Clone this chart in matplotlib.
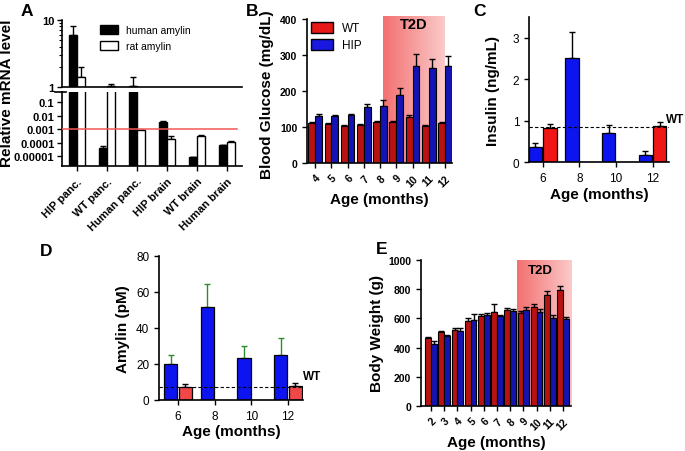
import matplotlib
matplotlib.use("Agg")
import numpy as np
import matplotlib.pyplot as plt
from matplotlib.patches import Patch
from matplotlib.colors import LinearSegmentedColormap
from matplotlib.ticker import FixedLocator, NullLocator, NullFormatter

plt.rcParams['font.family'] = ['Liberation Sans', 'DejaVu Sans']

# ---- data ----
a_groups = ["HIP panc.", "WT panc.", "Human panc.", "HIP brain", "WT brain", "Human brain"]
a_human = [6.0, 3.6e-5, 1.05, 3.7e-3, 8e-6, 6.3e-5]
a_human_err = [2.0, 2.4e-5, 0.35, 4e-4, 1e-6, 8e-6]
a_rat = [1.4, 1.02, 8.5e-4, 1.8e-4, 3.2e-4, 1.1e-4]
a_rat_err = [0.6, 0.1, 0.0, 1.4e-4, 2e-5, 1e-5]
a_cutoff = 1e-3

b_months = [4, 5, 6, 7, 8, 9, 10, 11, 12]
b_wt = [110, 107, 102, 106, 113, 113, 127, 103, 110]
b_wt_err = [4, 3, 3, 3, 3, 4, 5, 3, 3]
b_hip = [130, 130, 132, 155, 159, 189, 270, 263, 270]
b_hip_err = [5, 4, 3, 9, 17, 19, 33, 26, 26]

c_hip_months = [6, 8, 10, 12]
c_hip = [0.37, 2.5, 0.70, 0.16]
c_hip_err = [0.08, 0.65, 0.19, 0.10]
c_wt_months = [6, 12]
c_wt = [0.82, 0.87]
c_wt_err = [0.10, 0.10]
c_wt_level = 0.84

d_hip_months = [6, 8, 10, 12]
d_hip = [20, 51.5, 23.5, 25]
d_hip_err = [5, 13, 6.5, 9.5]
d_wt_months = [6, 12]
d_wt = [7.5, 8]
d_wt_err = [1.5, 1.5]
d_wt_level = 7.5

e_months = [2, 3, 4, 5, 6, 7, 8, 9, 10, 11, 12]
e_wt = [468, 507, 518, 582, 616, 645, 655, 639, 678, 760, 792]
e_wt_err = [8, 8, 15, 23, 12, 56, 18, 15, 18, 28, 30]
e_hip = [422, 479, 514, 587, 623, 616, 651, 655, 646, 605, 594]
e_hip_err = [23, 6, 23, 41, 15, 10, 15, 20, 15, 15, 15]

W, H = 685, 452
fig = plt.figure(figsize=(W / 100, H / 100), dpi=100)

def px_axes(l, t, r, b):
    return fig.add_axes([l / W, 1 - b / H, (r - l) / W, (b - t) / H])

def ftext(x, y, s, **kw):
    fig.text(x / W, 1 - y / H, s, **kw)

def style(ax):
    for s in ("top", "right"):
        ax.spines[s].set_visible(False)
    for s in ("left", "bottom"):
        ax.spines[s].set_linewidth(1.2)
    ax.tick_params(direction="out", length=3.5, width=1)

t2d_cmap = LinearSegmentedColormap.from_list("t2d", ["#f37070", "#fbcaca"])

def shade(ax, x0, x1, y0, y1):
    grad = np.linspace(0, 1, 256)[None, :]
    ax.imshow(grad, extent=[x0, x1, y0, y1], aspect="auto", cmap=t2d_cmap,
              zorder=0, interpolation="bilinear")

def upbars(ax, x, v, e, ecolor="k"):
    ax.errorbar(x, v, yerr=[np.zeros(len(e)), e], fmt="none", ecolor=ecolor,
                elinewidth=1, capsize=2.5, capthick=1, zorder=2)

BOLD = dict(fontweight="bold")

# ---- A ----
up = px_axes(62, 21, 242, 88)
lo = px_axes(62, 93, 242, 167)
xa = np.arange(len(a_groups))
for ax in (up, lo):
    style(ax)
    ax.set_yscale("log")
    upbars(ax, xa - 0.14, a_human, a_human_err)
    upbars(ax, xa + 0.14, a_rat, a_rat_err)
    ax.bar(xa - 0.14, a_human, 0.28, bottom=1e-9, color="k", edgecolor="k", lw=1, zorder=2.5)
    ax.bar(xa + 0.14, a_rat, 0.28, bottom=1e-9, color="w", edgecolor="k", lw=1, zorder=2.5)
    ax.set_xlim(-0.5, 5.5)
up.set_ylim(1, 10)
up.yaxis.set_major_locator(FixedLocator([1, 10]))
up.set_yticklabels(["1", "10"], fontsize=8, **BOLD)
up.yaxis.set_minor_locator(FixedLocator([2, 3, 4, 5, 6, 7, 8, 9]))
up.yaxis.set_minor_formatter(NullFormatter())
up.tick_params(axis="y", which="minor", length=2, width=0.8)
up.tick_params(axis="x", bottom=False, labelbottom=False)
lo.spines["top"].set_visible(False)
lo.set_ylim(10 ** -5.75, 10 ** -0.23)
lo.yaxis.set_major_locator(FixedLocator([1e-5, 1e-4, 1e-3, 1e-2, 1e-1]))
lo.yaxis.set_minor_locator(NullLocator())
lo.set_yticklabels(["0.00001", "0.0001", "0.001", "0.01", "0.1"], fontsize=8, **BOLD)
lo.tick_params(axis="y", pad=2)
up.tick_params(axis="y", pad=2)
lo.set_xticks(xa)
lo.set_xticklabels(a_groups, rotation=45, ha="right", rotation_mode="anchor", fontsize=8, **BOLD)
lo.axhline(a_cutoff, xmin=0, xmax=0.97, color="#f05858", lw=1.1, zorder=3)
lo.plot([-0.04, 0.02], [1, 1], transform=lo.transAxes, color="k", lw=1.2, clip_on=False)
up.legend([Patch(fc="k", ec="k"), Patch(fc="w", ec="k")], ["human amylin", "rat amylin"],
          loc="upper left", bbox_to_anchor=(100 / W, 1 - 26 / H), bbox_transform=fig.transFigure,
          frameon=False, fontsize=7.5, handlelength=1.7, handleheight=1.0,
          labelspacing=0.55, borderaxespad=0, borderpad=0, handletextpad=0.8)
ftext(7, 93, "Relative mRNA level", rotation=90, ha="center", va="center", fontsize=11, **BOLD)
ftext(27, 11, "A", ha="center", va="center", fontsize=12.5, **BOLD)

# ---- B ----
axb = px_axes(307, 17, 452, 164)
style(axb)
xb = np.arange(len(b_months))
shade(axb, 4.18, 7.94, 0, 408)
upbars(axb, xb - 0.21, b_wt, b_wt_err)
upbars(axb, xb + 0.21, b_hip, b_hip_err)
axb.bar(xb - 0.21, b_wt, 0.42, color="#b81212", edgecolor="k", lw=0.8, zorder=2.5)
axb.bar(xb + 0.21, b_hip, 0.42, color="#1414b4", edgecolor="k", lw=0.8, zorder=2.5)
axb.set_xlim(-0.5, 8.43)
axb.set_ylim(0, 408)
axb.spines["left"].set_bounds(0, 400)
axb.set_yticks([0, 100, 200, 300, 400])
axb.set_yticklabels(["0", "100", "200", "300", "400"], fontsize=7.5, **BOLD)
axb.set_xticks(xb)
axb.set_xticklabels([str(m) for m in b_months], rotation=45, ha="right",
                    rotation_mode="anchor", fontsize=7.5, **BOLD)
axb.text(6.06, 385, "T2D", ha="center", va="center", fontsize=10.5, **BOLD)
axb.legend([Patch(fc="#e81818", ec="k"), Patch(fc="#1818e0", ec="k")], ["WT", "HIP"],
           loc="upper left", bbox_to_anchor=(311 / W, 1 - 23 / H), bbox_transform=fig.transFigure,
           frameon=False, fontsize=8.5, handlelength=1.9, handleheight=1.0,
           labelspacing=0.4, borderaxespad=0, borderpad=0, handletextpad=0.7)
axb.set_ylabel("Blood Glucose (mg/dL)", fontsize=11, **BOLD)
axb.yaxis.set_label_coords(-0.23, 0.47)
axb.set_xlabel("Age (months)", fontsize=11, **BOLD)
axb.xaxis.set_label_coords(0.5, -0.2)
ftext(252, 11, "B", ha="center", va="center", fontsize=12.5, **BOLD)

# ---- C ----
axc = px_axes(529, 18, 669, 163)
style(axc)
hc = np.array(c_hip_months, dtype=float)
wc = np.array(c_wt_months, dtype=float)
upbars(axc, hc - 0.4, c_hip, c_hip_err)
upbars(axc, wc + 0.4, c_wt, c_wt_err)
axc.bar(hc - 0.4, c_hip, 0.72, color="#0c14f0", edgecolor="k", lw=0.9, zorder=2.5)
axc.bar(wc + 0.4, c_wt, 0.72, color="#f01616", edgecolor="k", lw=0.9, zorder=2.5)
axc.axhline(c_wt_level, color="k", lw=0.8, ls=(0, (3, 2)), zorder=3)
axc.set_xlim(5.25, 12.9)
axc.set_ylim(0, 3.5)
axc.set_yticks([0, 1, 2, 3])
axc.set_yticklabels(["0", "1", "2", "3"], fontsize=8.5)
axc.set_xticks([6, 8, 10, 12])
axc.set_xticklabels(["6", "8", "10", "12"], fontsize=8.5)
axc.text(12.75, 0.9, "WT", ha="left", va="bottom", fontsize=8.5, clip_on=False, **BOLD)
axc.set_ylabel("Insulin (ng/mL)", fontsize=11, **BOLD)
axc.yaxis.set_label_coords(-0.21, 0.5)
axc.set_xlabel("Age (months)", fontsize=11, **BOLD)
axc.xaxis.set_label_coords(0.5, -0.17)
ftext(479, 12, "C", ha="center", va="center", fontsize=12.5, **BOLD)

# ---- D ----
axd = px_axes(159, 257, 303, 401)
style(axd)
hd = np.array(d_hip_months, dtype=float)
wd = np.array(d_wt_months, dtype=float)
upbars(axd, hd - 0.4, d_hip, d_hip_err, ecolor="#2e8b2e")
upbars(axd, wd + 0.4, d_wt, d_wt_err)
axd.bar(hd - 0.4, d_hip, 0.72, color="#0c14f0", edgecolor="k", lw=0.9, zorder=2.5)
axd.bar(wd + 0.4, d_wt, 0.72, color="#f04848", edgecolor="k", lw=0.9, zorder=2.5)
axd.axhline(d_wt_level, color="k", lw=0.8, ls=(0, (3, 2)), zorder=3)
axd.set_xlim(4.96, 12.82)
axd.set_ylim(0, 80)
axd.set_yticks([0, 20, 40, 60, 80])
axd.set_yticklabels(["0", "20", "40", "60", "80"], fontsize=8.5)
axd.set_xticks([6, 8, 10, 12])
axd.set_xticklabels(["6", "8", "10", "12"], fontsize=8.5)
axd.text(12.82, 10, "WT", ha="left", va="bottom", fontsize=8.5, clip_on=False, **BOLD)
axd.set_ylabel("Amylin (pM)", fontsize=11, **BOLD)
axd.yaxis.set_label_coords(-0.2, 0.5)
axd.set_xlabel("Age (months)", fontsize=11, **BOLD)
axd.xaxis.set_label_coords(0.5, -0.17)
ftext(46, 252, "D", ha="center", va="center", fontsize=12.5, **BOLD)

# ---- E ----
axe = px_axes(421, 261, 571, 407)
style(axe)
xe = np.arange(len(e_months))
shade(axe, 6.5, 10.6, 0, 1000)
upbars(axe, xe - 0.22, e_wt, e_wt_err)
upbars(axe, xe + 0.22, e_hip, e_hip_err)
axe.bar(xe - 0.22, e_wt, 0.44, color="#b81212", edgecolor="k", lw=0.8, zorder=2.5)
axe.bar(xe + 0.22, e_hip, 0.44, color="#1414b0", edgecolor="k", lw=0.8, zorder=2.5)
axe.set_xlim(-0.76, 10.6)
axe.set_ylim(0, 1000)
axe.set_yticks([0, 200, 400, 600, 800, 1000])
axe.set_yticklabels(["0", "200", "400", "600", "800", "1000"], fontsize=7.5, **BOLD)
axe.set_xticks(xe)
axe.set_xticklabels([str(m) for m in e_months], rotation=45, ha="right",
                    rotation_mode="anchor", fontsize=7.5, **BOLD)
axe.text(8.26, 931, "T2D", ha="center", va="center", fontsize=9.5, **BOLD)
axe.set_ylabel("Body Weight (g)", fontsize=11, **BOLD)
axe.yaxis.set_label_coords(-0.25, 0.5)
axe.set_xlabel("Age (months)", fontsize=11, **BOLD)
axe.xaxis.set_label_coords(0.5, -0.2)
ftext(382, 250, "E", ha="center", va="center", fontsize=12.5, **BOLD)

fig.savefig("out.png", dpi=100)
